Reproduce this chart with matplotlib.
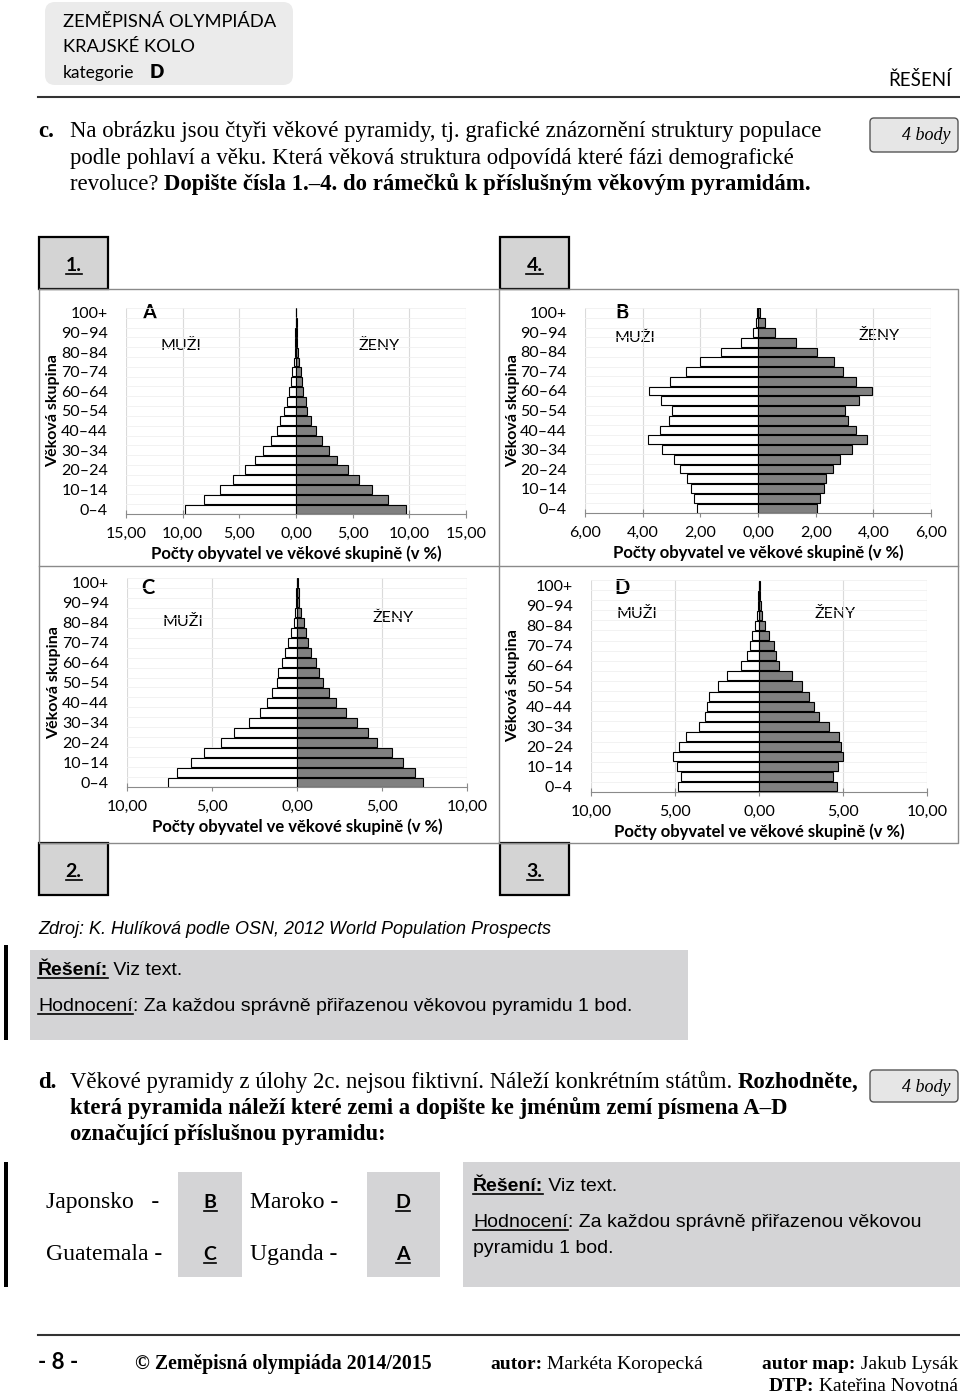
import numpy as np
import matplotlib
matplotlib.use('Agg')
from matplotlib import pyplot as plt
from matplotlib import font_manager
from matplotlib.patches import Rectangle, FancyBboxPatch

W, H = 960, 1393

# vekove skupiny (zdola nahoru)
age_groups = ['0–4', '5–9', '10–14', '15–19', '20–24', '25–29', '30–34', '35–39',
              '40–44', '45–49', '50–54', '55–59', '60–64', '65–69', '70–74', '75–79',
              '80–84', '85–89', '90–94', '95–99', '100+']

# pyramida A (Uganda)
a_muzi = [9.76, 8.15, 6.70, 5.53, 4.50, 3.62, 2.88, 2.24, 1.70, 1.38, 1.06, 0.82,
          0.62, 0.47, 0.32, 0.20, 0.12, 0.08, 0.05, 0.02, 0.01]
a_zeny = [9.70, 8.09, 6.68, 5.53, 4.56, 3.65, 2.94, 2.29, 1.76, 1.32, 1.00, 0.88,
          0.65, 0.55, 0.40, 0.25, 0.18, 0.12, 0.07, 0.05, 0.03]
a_ticks = [-15, -10, -5, 0, 5, 10, 15]

# pyramida B (Japonsko)
b_muzi = [2.13, 2.23, 2.34, 2.45, 2.71, 2.92, 3.32, 3.83, 3.39, 3.10, 2.98, 3.36,
          3.78, 3.06, 2.51, 2.01, 1.30, 0.58, 0.16, 0.06, 0.02]
b_zeny = [2.06, 2.15, 2.28, 2.36, 2.60, 2.86, 3.25, 3.79, 3.41, 3.11, 3.02, 3.49,
          3.96, 3.40, 2.94, 2.65, 2.06, 1.31, 0.60, 0.23, 0.06]
b_ticks = [-6, -4, -2, 0, 2, 4, 6]

# pyramida C (Guatemala)
c_muzi = [7.60, 7.03, 6.21, 5.47, 4.47, 3.69, 2.81, 2.19, 1.74, 1.46, 1.19, 1.11,
          0.88, 0.70, 0.55, 0.33, 0.18, 0.10, 0.06, 0.04, 0.02]
c_zeny = [7.44, 6.93, 6.21, 5.59, 4.73, 4.18, 3.54, 2.87, 2.30, 1.89, 1.52, 1.31,
          1.11, 0.82, 0.66, 0.55, 0.41, 0.21, 0.14, 0.10, 0.08]
c_ticks = [-10, -5, 0, 5, 10]

# pyramida D (Maroko)
d_muzi = [4.85, 4.67, 4.91, 5.13, 4.75, 4.34, 3.60, 3.23, 3.09, 2.95, 2.46, 1.88,
          1.07, 0.71, 0.55, 0.42, 0.22, 0.12, 0.08, 0.04, 0.02]
d_zeny = [4.63, 4.40, 4.69, 4.99, 4.87, 4.77, 4.14, 3.60, 3.25, 2.95, 2.55, 1.96,
          1.17, 1.01, 0.87, 0.57, 0.38, 0.18, 0.10, 0.08, 0.06]
d_ticks = [-10, -5, 0, 5, 10]

names = {f.name for f in font_manager.fontManager.ttflist}
SERIF = 'Liberation Serif'
NARROW = 'Liberation Sans Narrow' if 'Liberation Sans Narrow' in names else 'Liberation Sans'
NSIZE = 15.5 if NARROW == 'Liberation Sans Narrow' else 14
ZSIZE = 14.5 if NARROW == 'Liberation Sans Narrow' else 13
BODY = 16.4
CHART = 'Lato'
HEAD = 'Lato'

fig = plt.figure(figsize=(W / 100, H / 100), dpi=100)
page = fig.add_axes([0, 0, 1, 1], zorder=0)
page.set_xlim(0, W)
page.set_ylim(H, 0)
page.axis('off')
renderer = fig.canvas.get_renderer()


def frac(x0, y0, x1, y1):
    return [x0 / W, 1 - y1 / H, (x1 - x0) / W, (y1 - y0) / H]


def runs(x, y, parts, ha='left', size=15, family=SERIF, color='black'):
    # parts: (text, bold, italic, underline)
    objs = []
    cx = x
    for s, bold, ital, und in parts:
        t = page.text(cx, y, s, fontsize=size, family=family, color=color,
                      weight='bold' if bold else 'normal',
                      style='italic' if ital else 'normal', va='baseline')
        bb = t.get_window_extent(renderer)
        objs.append((t, bb, und))
        cx += bb.width
    shift = 0
    if ha == 'right':
        shift = x - cx
    elif ha == 'center':
        shift = (x - cx) / 2
    for t, bb, und in objs:
        t.set_x(t.get_position()[0] + shift)
        if und:
            s = t.get_text()
            lead = len(s) - len(s.lstrip())
            x0 = bb.x0 + shift
            if lead:
                sp = page.text(0, 0, s[:lead], fontsize=size, family=family)
                x0 += sp.get_window_extent(renderer).width
                sp.remove()
            page.plot([x0, bb.x1 + shift], [y + 2.5, y + 2.5], color=color, lw=1.2)


def rbox(x0, y0, x1, y1, fc, ec='none', lw=1.0, rad=0):
    if rad:
        p = FancyBboxPatch((x0, y0), x1 - x0, y1 - y0, boxstyle=f'round,pad=0,rounding_size={rad}',
                           fc=fc, ec=ec, lw=lw)
    else:
        p = Rectangle((x0, y0), x1 - x0, y1 - y0, fc=fc, ec=ec, lw=lw)
    page.add_patch(p)


# hlavicka
rbox(45, 2, 293, 85, '#ebebeb', rad=10)
page.text(63, 27, 'ZEMĚPISNÁ OLYMPIÁDA', fontsize=13.2, family=HEAD, va='baseline')
page.text(63, 52, 'KRAJSKÉ KOLO', fontsize=13.2, family=HEAD, va='baseline')
page.text(63, 78, 'kategorie', fontsize=12.5, family=HEAD, va='baseline')
page.text(150, 78, 'D', fontsize=13.5, family=HEAD, weight='heavy', va='baseline')
page.text(952, 86, 'ŘEŠENÍ', fontsize=13.5, family=HEAD, ha='right', va='baseline')
page.plot([38, 960], [97, 97], color='#333333', lw=1.5)

# uloha c
runs(38, 137, [('c.', True, False, False)], size=BODY)
runs(70, 137, [('Na obrázku jsou čtyři věkové pyramidy, tj. grafické znázornění struktury populace', False, False, False)], size=BODY)
runs(70, 164, [('podle pohlaví a věku. Která věková struktura odpovídá které fázi demografické', False, False, False)], size=BODY)
runs(70, 190, [('revoluce? ', False, False, False),
               ('Dopište čísla 1.–4. do rámečků k příslušným věkovým pyramidám.', True, False, False)], size=BODY)
rbox(870, 118, 958, 152, '#e6e6e6', ec='#555555', lw=1.0, rad=4)
page.text(950, 140, '4 body', fontsize=13, family=SERIF, style='italic', ha='right', va='baseline')

# ramecek s pyramidami
fc = '#8a8a8a'
page.plot([39, 958, 958, 39, 39], [289, 289, 843, 843, 289], color=fc, lw=1.0)
page.plot([499, 499], [289, 843], color=fc, lw=1.0)
page.plot([39, 958], [566, 566], color=fc, lw=1.0)

for (x0, y0, lab) in [(39, 237, '1.'), (500, 237, '4.'), (39, 843, '2.'), (500, 843, '3.')]:
    rbox(x0, y0, x0 + 69, y0 + 52, '#d4d4d4', ec='black', lw=1.6)
    runs(x0 + 34.5, y0 + 34, [(lab, True, False, True)], ha='center', size=14, family=CHART)


def pyramid(rect, muzi, zeny, ticks, letter, muzi_xy, zeny_xy, ylab_x):
    ax = fig.add_axes(frac(*rect), zorder=2)
    ax.patch.set_alpha(0)
    y = np.arange(len(age_groups))
    ax.barh(y, -np.array(muzi), height=0.9, color='white', edgecolor='black', lw=0.8, zorder=3)
    ax.barh(y, zeny, height=0.9, color='#808080', edgecolor='black', lw=0.8, zorder=3)
    ax.set_xlim(ticks[0], ticks[-1])
    ax.set_ylim(-0.5, len(age_groups) - 0.5)
    ax.set_xticks(ticks)
    ax.set_xticklabels([f'{abs(t):.2f}'.replace('.', ',') for t in ticks], family=CHART)
    ax.set_yticks(y[::2])
    ax.set_yticklabels(age_groups[::2], family=CHART)
    ax.set_yticks(np.arange(-0.5, len(age_groups), 1), minor=True)
    ax.grid(axis='x', color='#dadada', lw=0.8, zorder=0)
    ax.grid(axis='y', which='minor', color='#f0f0f0', lw=0.6, zorder=0)
    for s in ['top', 'right', 'left']:
        ax.spines[s].set_visible(False)
    ax.spines['bottom'].set_color('#8a8a8a')
    ax.tick_params(axis='x', direction='inout', length=6, color='#8a8a8a', labelsize=11.5, pad=6)
    ax.tick_params(axis='y', which='both', length=0, pad=13, labelsize=11.5)
    ax.set_xlabel('Počty obyvatel ve věkové skupině (v %)', family=CHART, weight='bold', fontsize=12)
    ax.set_ylabel('Věková skupina', family=CHART, weight='bold', fontsize=11.5)
    w = rect[2] - rect[0]
    h = rect[3] - rect[1]
    ax.xaxis.set_label_coords(0.5, -31 / h)
    ax.yaxis.set_label_coords((ylab_x - rect[0]) / w, 0.5)
    page.text(letter[0], letter[1], letter[2], fontsize=14.5, family=CHART, weight='bold',
              ha='center', va='center')
    page.text(muzi_xy[0], muzi_xy[1], 'MUŽI', fontsize=11.5, family=CHART, ha='center', va='center')
    page.text(zeny_xy[0], zeny_xy[1], 'ŽENY', fontsize=11.5, family=CHART, ha='center', va='center')
    return ax


pyramid((126, 308, 466, 514), a_muzi, a_zeny, a_ticks, (149, 313, 'A'), (181, 346), (379, 346), 60)
pyramid((585, 308, 931, 513), b_muzi, b_zeny, b_ticks, (622, 313, 'B'), (635, 338), (879, 336), 520)
pyramid((127, 578, 467, 787), c_muzi, c_zeny, c_ticks, (148, 588, 'C'), (183, 622), (393, 618), 61)
pyramid((591, 580, 927, 792), d_muzi, d_zeny, d_ticks, (622, 588, 'D'), (637, 614), (835, 614), 520)

# zdroj a reseni
runs(38, 934, [('Zdroj: K. Hulíková podle OSN, 2012 World Population Prospects', False, True, False)],
     size=ZSIZE, family=NARROW)
page.add_patch(Rectangle((4, 945), 4, 95, fc='black'))
rbox(30, 950, 688, 1040, '#d4d4d6')
runs(38, 975, [('Řešení:', True, False, True), (' Viz text.', False, False, False)], size=NSIZE, family=NARROW)
runs(38, 1011, [('Hodnocení', False, False, True), (': Za každou správně přiřazenou věkovou pyramidu 1 bod.', False, False, False)],
     size=NSIZE, family=NARROW)

# uloha d
runs(38, 1088, [('d.', True, False, False)], size=BODY)
runs(70, 1088, [('Věkové pyramidy z úlohy 2c. nejsou fiktivní. Náleží konkrétním státům. ', False, False, False),
                ('Rozhodněte,', True, False, False)], size=BODY)
runs(70, 1114, [('která pyramida náleží které zemi a dopište ke jménům zemí písmena A–D', True, False, False)], size=BODY)
runs(70, 1140, [('označující příslušnou pyramidu:', True, False, False)], size=BODY)
rbox(870, 1070, 958, 1102, '#e6e6e6', ec='#555555', lw=1.0, rad=4)
page.text(950, 1092, '4 body', fontsize=13, family=SERIF, style='italic', ha='right', va='baseline')

page.add_patch(Rectangle((4, 1162), 4, 125, fc='black'))
rbox(178, 1172, 242, 1277, '#d4d4d6')
rbox(367, 1172, 440, 1277, '#d4d4d6')
rbox(463, 1162, 960, 1287, '#d4d4d6')
runs(46, 1208, [('Japonsko   -', False, False, False)], size=17)
runs(46, 1260, [('Guatemala -', False, False, False)], size=17)
runs(250, 1208, [('Maroko -', False, False, False)], size=17)
runs(250, 1260, [('Uganda -', False, False, False)], size=17)
runs(210, 1208, [('B', True, False, True)], ha='center', size=14, family=CHART)
runs(210, 1260, [('C', True, False, True)], ha='center', size=14, family=CHART)
runs(403, 1208, [('D', True, False, True)], ha='center', size=14, family=CHART)
runs(403, 1260, [('A', True, False, True)], ha='center', size=14, family=CHART)
runs(473, 1191, [('Řešení:', True, False, True), (' Viz text.', False, False, False)], size=NSIZE, family=NARROW)
runs(473, 1227, [('Hodnocení', False, False, True), (': Za každou správně přiřazenou věkovou', False, False, False)],
     size=NSIZE, family=NARROW)
runs(473, 1253, [('pyramidu 1 bod.', False, False, False)], size=NSIZE, family=NARROW)

# paticka
page.plot([38, 960], [1335, 1335], color='#333333', lw=1.5)
runs(38, 1369, [('- 8 -', True, False, False)], size=16, family=CHART)
runs(135, 1369, [('© Zeměpisná olympiáda 2014/2015', True, False, False)], size=14.3)
runs(490, 1369, [('autor:', True, False, False), (' Markéta Koropecká', False, False, False)], size=14)
runs(958, 1369, [('autor map:', True, False, False), (' Jakub Lysák', False, False, False)], ha='right', size=14)
runs(958, 1391, [('DTP:', True, False, False), (' Kateřina Novotná', False, False, False)], ha='right', size=14)

fig.savefig('out.png', dpi=100)
